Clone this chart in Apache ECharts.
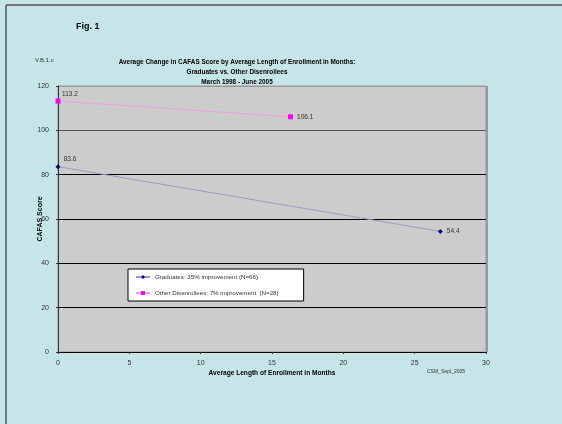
<!DOCTYPE html>
<html>
<head>
<meta charset="utf-8">
<script src="https://cdn.jsdelivr.net/npm/echarts@6/dist/echarts.min.js"></script>
<style>
  html, body { margin: 0; padding: 0; background: #c5e5e8; }
  #chart { width: 562px; height: 424px; }
</style>
</head>
<body>
<div id="chart"></div>
<script>
// Average enrollment length (months) and CAFAS scores, start vs. end
const graduatesMonths = [0, 26.8];
const graduatesScores = [83.6, 54.4];
const otherMonths = [0, 16.3];
const otherScores = [113.2, 106.1];
const seriesNames = [
  'Graduates: 35% improvement (N=66)',
  'Other Disenrollees: 7% improvement  (N=28)'
];
const titleLines = [
  'Average Change in CAFAS Score by Average Length of Enrollment in Months:',
  'Graduates vs. Other Disenrollees',
  'March 1998 - June 2005'
];

const font = 'Liberation Sans, Arial, sans-serif';

// Start values are labelled above-right, end values to the right
function points(xs, ys) {
  return xs.map((x, i) => ({
    value: [x, ys[i]],
    label: i === 0
      ? { position: 'top', offset: [12, 4] }
      : { position: 'right', offset: [-1, 0] }
  }));
}

const chart = echarts.init(document.getElementById('chart'), null, { renderer: 'canvas' });

chart.setOption({
  backgroundColor: '#c5e5e8',
  animation: false,
  textStyle: { fontFamily: font },
  title: {
    text: titleLines.join('\n'),
    left: 232,
    top: 52,
    textAlign: 'center',
    textStyle: { fontSize: 6.4, fontWeight: 'bold', color: '#000', lineHeight: 10.2, fontFamily: font }
  },
  grid: {
    left: 58, top: 86, right: 76, bottom: 72,
    show: true,
    backgroundColor: '#cccccc',
    borderColor: '#999999',
    borderWidth: 1
  },
  legend: {
    left: 128, top: 269,
    orient: 'vertical',
    backgroundColor: '#ffffff',
    borderColor: '#000000',
    borderWidth: 1,
    padding: [5, 25, 5, 7],
    itemGap: 10,
    itemWidth: 14,
    itemHeight: 5,
    textStyle: { fontSize: 6.2, color: '#333', fontFamily: font },
    data: seriesNames
  },
  xAxis: {
    type: 'value',
    min: 0, max: 30, interval: 5,
    name: 'Average Length of Enrollment in Months',
    nameLocation: 'middle',
    nameGap: 18,
    nameMoveOverlap: false,
    nameTextStyle: { fontSize: 6.6, fontWeight: 'bold', color: '#000' },
    axisLine: { lineStyle: { color: '#000', width: 1 } },
    axisTick: { show: true, length: 2, lineStyle: { color: '#333' } },
    axisLabel: { fontSize: 7, color: '#333', margin: 8 },
    splitLine: { show: false }
  },
  yAxis: {
    type: 'value',
    min: 0, max: 120, interval: 20,
    name: 'CAFAS Score',
    nameLocation: 'middle',
    nameGap: 14,
    nameMoveOverlap: false,
    nameTextStyle: { fontSize: 7, fontWeight: 'bold', color: '#000' },
    axisLine: { show: true, lineStyle: { color: '#333', width: 1 } },
    axisTick: { show: true, length: 2, lineStyle: { color: '#333' } },
    axisLabel: { fontSize: 7, color: '#333', margin: 9 },
    splitLine: {
      show: true,
      lineStyle: { color: ['#000', '#000', '#000', '#000', '#000', '#555', '#999'], width: 1 }
    }
  },
  series: [
    {
      name: seriesNames[0],
      type: 'line',
      data: points(graduatesMonths, graduatesScores),
      symbol: 'diamond',
      symbolSize: 5,
      lineStyle: { color: '#9a9acc', width: 1 },
      itemStyle: { color: '#000080' },
      label: {
        show: true, fontSize: 6.5, color: '#333',
        formatter: p => p.value[1].toFixed(1)
      },
      z: 3
    },
    {
      name: seriesNames[1],
      type: 'line',
      data: points(otherMonths, otherScores),
      symbol: 'rect',
      symbolSize: 5,
      lineStyle: { color: '#eaa2ea', width: 1 },
      itemStyle: { color: '#ff00ff' },
      label: {
        show: true, fontSize: 6.5, color: '#333',
        formatter: p => p.value[1].toFixed(1)
      },
      z: 3
    }
  ],
  graphic: [
    { type: 'line', shape: { x1: 6, y1: 5, x2: 562, y2: 5 }, style: { stroke: '#555', lineWidth: 1.5 } },
    { type: 'line', shape: { x1: 6, y1: 5, x2: 6, y2: 424 }, style: { stroke: '#555', lineWidth: 1.5 } },
    { type: 'text', left: 76, top: 22, style: { text: 'Fig. 1', font: 'bold 9px ' + font, fill: '#000' } },
    { type: 'text', left: 35, top: 57, style: { text: 'V.B.1.c', font: '6px ' + font, fill: '#333' } },
    { type: 'text', left: 427, top: 369, style: { text: 'CSM_Sept_2005', font: '5px ' + font, fill: '#333' } },
    { type: 'line', shape: { x1: 487, y1: 86, x2: 487, y2: 352 }, style: { stroke: '#999', lineWidth: 2 } }
  ]
});
</script>
</body>
</html>
